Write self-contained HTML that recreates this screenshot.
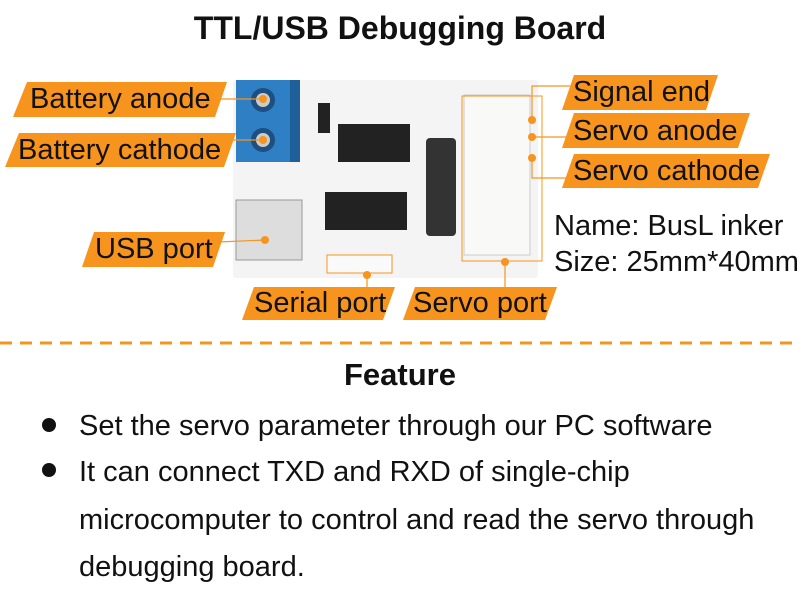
<!DOCTYPE html>
<html><head><meta charset="utf-8"><style>
body{margin:0;width:800px;height:600px;background:#fff;font-family:"Liberation Sans",Arial,sans-serif;overflow:hidden;position:relative}
.t{position:absolute;white-space:nowrap;color:#111}
.lab{position:absolute;font-size:29px;color:#111;line-height:34px;white-space:nowrap}
</style></head><body>
<svg width="800" height="600" style="position:absolute;left:0;top:0">
<rect x="233" y="80" width="305" height="198" fill="#f4f4f4" rx="3"/>
<rect x="236" y="80" width="64" height="82" fill="#2f7fc4"/>
<rect x="290" y="80" width="10" height="82" fill="#1f5f9a"/>
<circle cx="263" cy="100" r="12" fill="#1d4f80"/><circle cx="263" cy="100" r="7" fill="#ccc"/>
<circle cx="263" cy="140" r="12" fill="#1d4f80"/><circle cx="263" cy="140" r="7" fill="#ccc"/>
<rect x="318" y="103" width="12" height="30" fill="#222"/>
<rect x="338" y="124" width="72" height="38" fill="#222"/>
<rect x="325" y="192" width="82" height="38" fill="#222"/>
<rect x="426" y="138" width="30" height="98" rx="4" fill="#333"/>
<rect x="236" y="200" width="66" height="60" fill="#ddd" stroke="#999"/>
<rect x="464" y="95" width="66" height="160" fill="#f9f9f7" stroke="#ccc"/>
<rect x="327" y="255" width="65" height="18" fill="#fafafa" stroke="#f7941d"/>
<rect x="462" y="96" width="80" height="165" fill="none" stroke="#f7941d"/>
<polygon points="27,82 227,82 215,117 13,117" fill="#f7941d"/>
<polygon points="19,133 236,133 224,167 5,167" fill="#f7941d"/>
<polygon points="94,232 225,232 213,267 82,267" fill="#f7941d"/>
<polygon points="254,287 395,287 383,320 242,320" fill="#f7941d"/>
<polygon points="415,287 557,287 545,320 403,320" fill="#f7941d"/>
<polygon points="574,75 718,75 706,110 562,110" fill="#f7941d"/>
<polygon points="574,113 750,113 738,148 562,148" fill="#f7941d"/>
<polygon points="574,154 770,154 758,188 562,188" fill="#f7941d"/>
<g stroke="#f7941d" stroke-width="1.2" fill="none">
<line x1="220" y1="99" x2="263" y2="99"/>
<line x1="230" y1="140" x2="263" y2="140"/>
<line x1="218" y1="242" x2="265" y2="240"/>
<line x1="367" y1="273" x2="367" y2="287"/>
<line x1="505" y1="260" x2="505" y2="287"/>
<polyline points="532,120 532,86 570,86"/>
<line x1="532" y1="137" x2="570" y2="137"/>
<polyline points="532,158 532,178 570,178"/>
</g>
<g fill="#f7941d"><circle cx="263" cy="99" r="4"/><circle cx="263" cy="140" r="4"/><circle cx="265" cy="240" r="4"/><circle cx="367" cy="275" r="4"/><circle cx="505" cy="262" r="4"/><circle cx="532" cy="120" r="4"/><circle cx="532" cy="137" r="4"/><circle cx="532" cy="158" r="4"/></g>
<line x1="0" y1="343" x2="800" y2="343" stroke="#f7941d" stroke-width="3" stroke-dasharray="12,8"/>
<circle cx="49" cy="425" r="7" fill="#111"/>
<circle cx="49" cy="470" r="7" fill="#111"/>
</svg>
<div class="t" style="left:0;width:800px;text-align:center;top:10px;font-size:32px;font-weight:bold">TTL/USB Debugging Board</div>
<div class="lab" style="left:30px;top:82px">Battery anode</div>
<div class="lab" style="left:18px;top:133px">Battery cathode</div>
<div class="lab" style="left:95px;top:232px">USB port</div>
<div class="lab" style="left:254px;top:286px">Serial port</div>
<div class="lab" style="left:413px;top:286px">Servo port</div>
<div class="lab" style="left:573px;top:75px">Signal end</div>
<div class="lab" style="left:573px;top:114px">Servo anode</div>
<div class="lab" style="left:573px;top:154px">Servo cathode</div>
<div class="lab" style="left:554px;top:209px">Name: BusL inker</div>
<div class="lab" style="left:554px;top:245px">Size: 25mm*40mm</div>
<div class="t" style="left:0;width:800px;text-align:center;top:357px;font-size:31px;font-weight:bold">Feature</div>
<div class="t" style="left:79px;top:410px;font-size:29px">Set the servo parameter through our PC software</div>
<div class="t" style="left:79px;top:449px;font-size:29px;line-height:47.5px;white-space:normal;width:690px">It can connect TXD and RXD of single-chip microcomputer to control and read the servo through debugging board.</div>
</body></html>
